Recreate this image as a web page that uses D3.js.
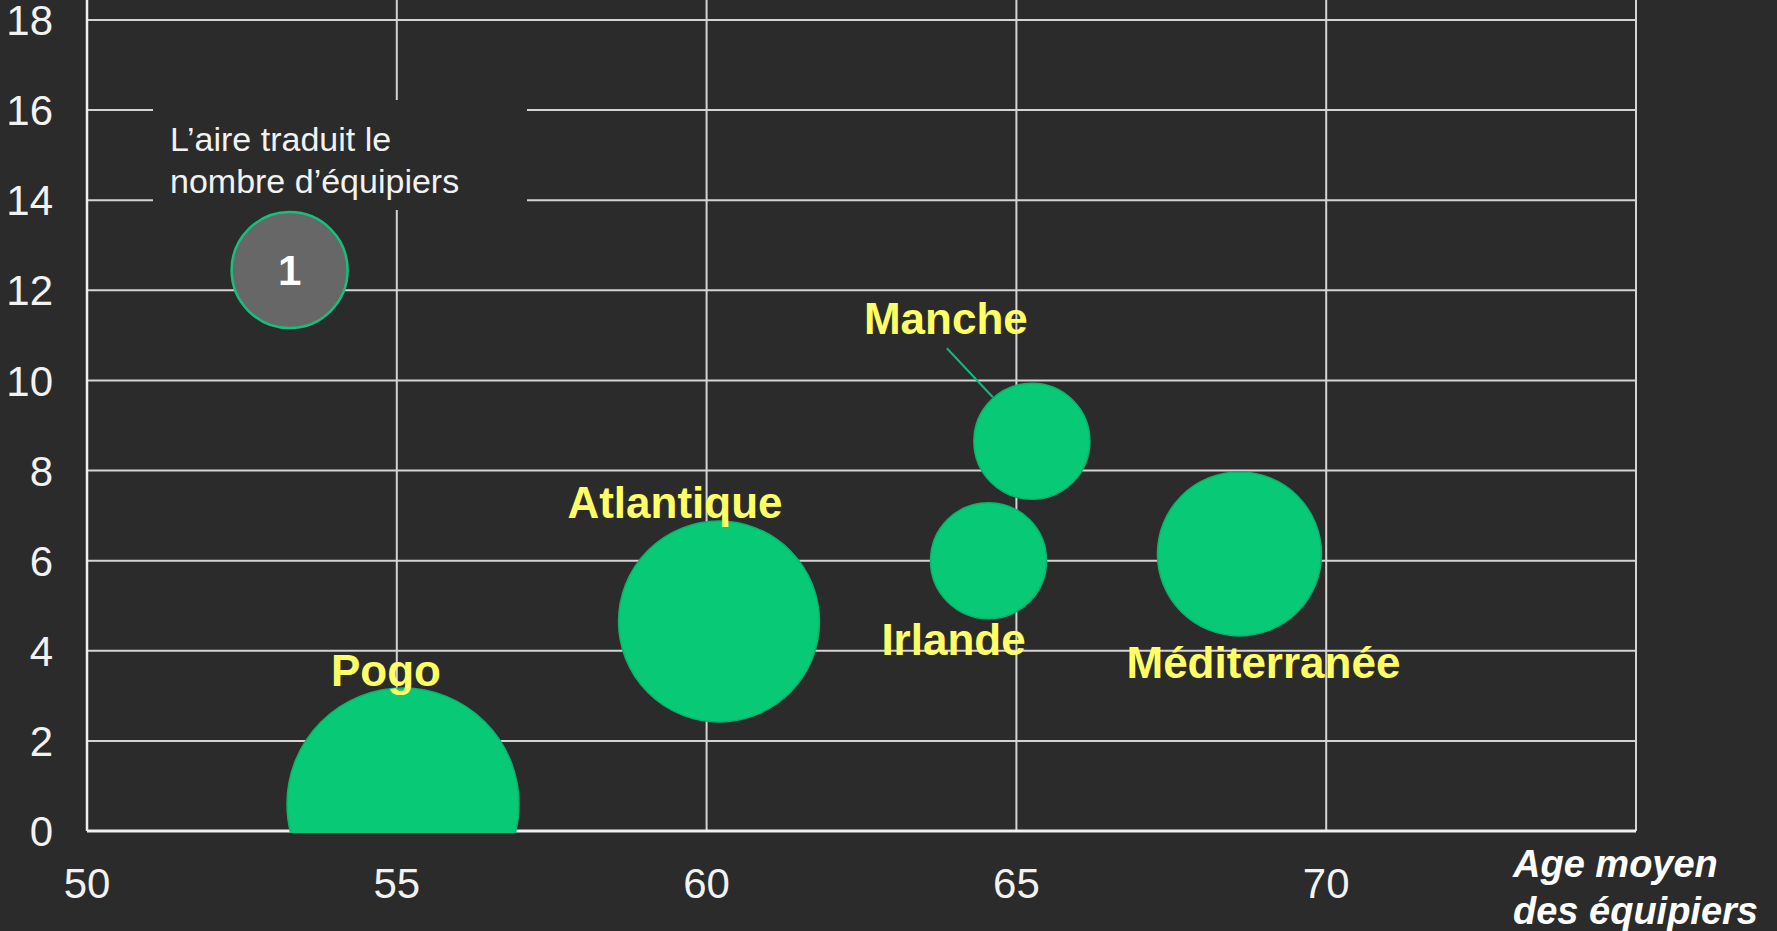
<!DOCTYPE html>
<html lang="fr">
<meta charset="utf-8">
<style>
  html, body { margin: 0; padding: 0; background: #2b2b2b; overflow: hidden; }
  body { font-family: "Liberation Sans", Arial, sans-serif; }
  .grid line { stroke: #d4d4d4; stroke-width: 2; }
  .tick-label { fill: #f2f2f2; font-size: 42px; }
  .bubble-label { fill: #ffff66; font-size: 44px; font-weight: bold; }
</style>
<body>
<div id="chart"></div>
<script src="https://d3js.org/d3.v7.min.js"></script>
<script>

// data
var regions = ["Pogo", "Atlantique", "Manche", "Irlande", "Méditerranée"];
var ages    = [55.1, 60.2, 65.25, 64.55, 68.6];   // age moyen (x)
var yValues = [0.6, 4.65, 8.65, 6.0, 6.15];       // y
var crew    = [4, 3, 1, 1, 2];                    // nombre d'équipiers (area)

var xTicks = [50, 55, 60, 65, 70];
var yTicks = [0, 2, 4, 6, 8, 10, 12, 14, 16, 18];

// legend bubble (1 équipier)
var legendAge = 53.27, legendY = 12.45, legendCrew = 1;

// label offsets in px from bubble centre
var labelDx = [-17, -44, -86, -35, 24];
var labelDy = [-118, -103, -107, 94, 124];

var width = 1777, height = 931;

var x = d3.scaleLinear().domain([50, 75]).range([87, 1636]);
var y = d3.scaleLinear().domain([0, 18]).range([831, 20]);
var r = d3.scaleSqrt().domain([0, 4]).range([0, 116]);

var svg = d3.select("#chart").append("svg")
    .attr("width", width)
    .attr("height", height);

svg.append("defs").append("clipPath").attr("id", "plot")
  .append("rect")
    .attr("x", x(50)).attr("y", 0)
    .attr("width", x(75) - x(50)).attr("height", y(0) + 2);

// gridlines
var grid = svg.append("g").attr("class", "grid");
grid.selectAll("line.h")
    .data(yTicks)
  .enter().append("line")
    .attr("class", "h")
    .attr("x1", x(50)).attr("x2", x(75))
    .attr("y1", function(d) { return y(d); })
    .attr("y2", function(d) { return y(d); });

grid.selectAll("line.v")
    .data([55, 60, 65, 70, 75])
  .enter().append("line")
    .attr("class", "v")
    .attr("y1", 0).attr("y2", y(0))
    .attr("x1", function(d) { return x(d); })
    .attr("x2", function(d) { return x(d); });

// axes lines
svg.append("line")
    .attr("x1", x(50)).attr("x2", x(50))
    .attr("y1", 0).attr("y2", y(0))
    .attr("stroke", "#f0f0f0").attr("stroke-width", 2.5);
svg.append("line")
    .attr("x1", x(50)).attr("x2", x(75))
    .attr("y1", y(0)).attr("y2", y(0))
    .attr("stroke", "#f0f0f0").attr("stroke-width", 3);

// tick labels
svg.selectAll("text.ylab")
    .data(yTicks)
  .enter().append("text")
    .attr("class", "tick-label")
    .attr("x", 53)
    .attr("y", function(d) { return y(d); })
    .attr("dy", "0.36em")
    .attr("text-anchor", "end")
    .text(function(d) { return d; });

svg.selectAll("text.xlab")
    .data(xTicks)
  .enter().append("text")
    .attr("class", "tick-label")
    .attr("x", function(d) { return x(d); })
    .attr("y", 898)
    .attr("text-anchor", "middle")
    .text(function(d) { return d; });

// x axis title
var title = svg.append("text")
    .attr("x", 1513)
    .attr("y", 877)
    .attr("fill", "#ffffff")
    .style("font-size", "38px")
    .style("font-weight", "bold")
    .style("font-style", "italic");
title.append("tspan").attr("x", 1513).text("Age moyen");
title.append("tspan").attr("x", 1513).attr("dy", 47).text("des équipiers");

// legend box
svg.append("rect")
    .attr("x", 153).attr("y", 100)
    .attr("width", 374).attr("height", 110)
    .attr("fill", "#2b2b2b");
var note = svg.append("text")
    .attr("fill", "#f2f2f2")
    .style("font-size", "34px");
note.append("tspan").attr("x", 170).attr("y", 151).text("L\u2019aire traduit le");
note.append("tspan").attr("x", 170).attr("y", 193).text("nombre d\u2019équipiers");

svg.append("circle")
    .attr("cx", x(legendAge))
    .attr("cy", y(legendY))
    .attr("r", r(legendCrew))
    .attr("fill", "#676767")
    .attr("stroke", "#16c07c")
    .attr("stroke-width", 2.5);
svg.append("text")
    .attr("x", x(legendAge))
    .attr("y", y(legendY))
    .attr("dy", "0.36em")
    .attr("text-anchor", "middle")
    .attr("fill", "#ffffff")
    .style("font-size", "42px")
    .style("font-weight", "bold")
    .text(legendCrew);

// bubbles
svg.append("g")
    .attr("clip-path", "url(#plot)")
  .selectAll("circle")
    .data(regions)
  .enter().append("circle")
    .attr("cx", function(d, i) { return x(ages[i]); })
    .attr("cy", function(d, i) { return y(yValues[i]); })
    .attr("r", function(d, i) { return r(crew[i]); })
    .attr("fill", "#08c976")
    .attr("stroke", "#0bb46c")
    .attr("stroke-width", 1.5);

// leader line for Manche
var mi = regions.indexOf("Manche");
svg.append("line")
    .attr("x1", x(ages[mi]) - 85).attr("y1", y(yValues[mi]) - 93)
    .attr("x2", x(ages[mi]) - 39).attr("y2", y(yValues[mi]) - 44)
    .attr("stroke", "#15b884").attr("stroke-width", 2);

// labels
svg.selectAll("text.bl")
    .data(regions)
  .enter().append("text")
    .attr("class", "bubble-label")
    .attr("text-anchor", "middle")
    .attr("x", function(d, i) { return x(ages[i]) + labelDx[i]; })
    .attr("y", function(d, i) { return y(yValues[i]) + labelDy[i]; })
    .text(function(d) { return d; });

</script>
</body>
</html>
